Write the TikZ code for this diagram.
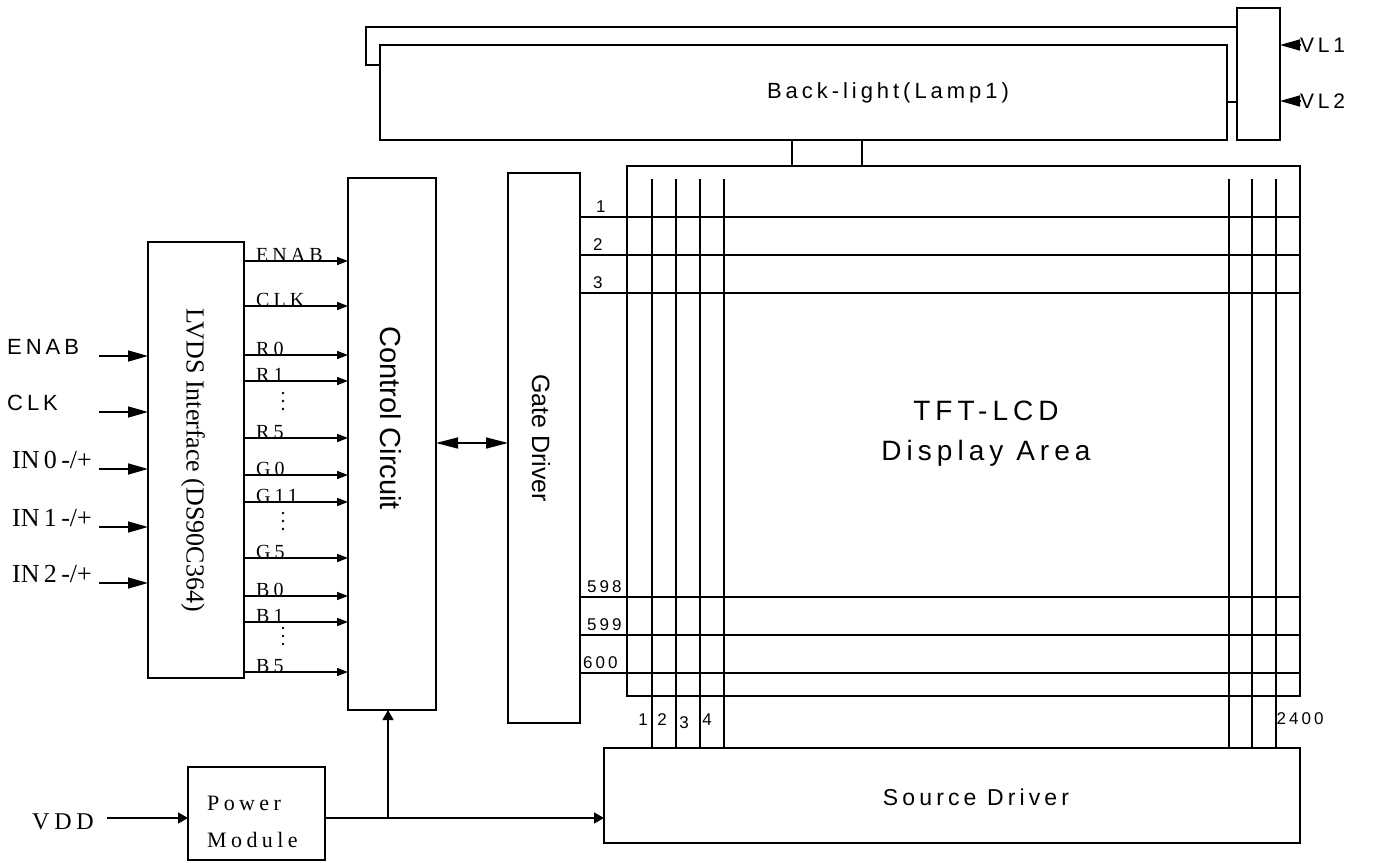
\documentclass[tikz,border=0pt]{standalone}
\usepackage{fontspec}
\setmainfont{Liberation Serif}
\setsansfont{Liberation Sans}
\newfontfamily\spsf[LetterSpace=18]{Liberation Sans}
\newfontfamily\sprm[LetterSpace=20]{Liberation Serif}
\usetikzlibrary{arrows.meta}
\newcommand{\fs}[1]{\fontsize{#1}{#1}\selectfont}
\begin{document}
\begin{tikzpicture}
            [x=1pt, y=-1pt,
             blk/.style ={draw, line width=1.9pt, inner sep=0pt, outer sep=0pt},
             ln/.style ={line width=1.6pt},
             lbl/.style ={inner sep=0pt},
             sarr/.style ={ln, -{Triangle[length=11pt,width=8pt]}},
             barr/.style ={ln, -{Triangle[length=20pt,width=11pt]}},
             parr/.style ={ln, -{Triangle[length=10pt,width=11pt]}}]
            \useasboundingbox (0,0) rectangle (1388,862);
            % blocks
            \node[blk, minimum width=847pt, minimum height=95pt] (bl) at (803.5,92.5) {};
            \node[blk, minimum width=43pt, minimum height=132pt] (vlb) at (1258.5,74) {};
            \node[blk, line width=2.6pt, minimum width=673pt, minimum height=530pt] (lcd) at (963.5,431) {};
            \node[blk, minimum width=696pt, minimum height=95pt] (src) at (952,795.5) {};
            \node[blk, minimum width=72pt, minimum height=550pt] (gate) at (544,448) {};
            \node[blk, minimum width=88pt, minimum height=532pt] (ctrl) at (392,444) {};
            \node[blk, minimum width=96pt, minimum height=436pt] (lvds) at (196,460) {};
            \node[blk, minimum width=137pt, minimum height=93pt] (pwr) at (256.5,813.5) {};
            % block texts
            \node[lbl, font=\spsf\fs{22}] at (888,93) {Back-light(Lamp1)};
            \node[lbl, font=\spsf\fs{28}, align=center] (tft) at (986,434)
                {TFT-LCD\\[12pt]Display Area};
            \node[lbl, font=\spsf\fs{23}] at (976,797) {Source Driver};
            \node[lbl, font=\sffamily\fs{25}, rotate=-90] at (541,438) {Gate Driver};
            \node[lbl, font=\sffamily\fs{29}, rotate=-90] at (391,418) {Control Circuit};
            \node[lbl, font=\rmfamily\fs{26}, rotate=-90] at (193,460) {LVDS Interface (DS90C364)};
            \node[lbl, font=\sprm\fs{22}, anchor=west] at (207,803) {Power};
            \node[lbl, font=\sprm\fs{22}, anchor=west] at (207,840) {Module};
            % back-light wiring
            \draw[ln] (bl.west |- 0,65) -| (366,27) -- (vlb.west |- 0,27);
            \draw[ln] (bl.east |- 0,102) -- (vlb.west |- 0,102);
            \draw[ln] (bl.south -| 792,0) -- (lcd.north -| 792,0);
            \draw[ln] (bl.south -| 862,0) -- (lcd.north -| 862,0);
            \foreach \y/\t in {45/VL1, 101/VL2}{
                \node[lbl, font=\spsf\fs{21}, anchor=west] (v\t) at (1300,\y) {\t};
                \draw[barr] (v\t.west) -- (vlb.east |- v\t.west);
            }
            % gate lines
            \foreach \y/\t/\p in {217/1/596, 255/2/593, 293/3/593, 597/598/587, 635/599/587, 673/600/583}{
                \draw[ln] (gate.east |- 0,\y) -- (lcd.east |- 0,\y);
                \node[lbl, font=\spsf\fs{17}, anchor=south west] at (\p,\y-4) {\t};
            }
            % source lines
            \foreach \x in {652,676,700,724,1229,1252,1276}
                \draw[ln] (\x,179) -- (src.north -| \x,0);
            \foreach \x/\y/\t in {643/720/1, 662/720/2, 684/723/3, 707/720/4, 1300/719/2400}
                \node[lbl, font=\spsf\fs{17}] at (\x,\y) {\t};
            % LVDS inputs
            \foreach \y/\t in {356/ENAB, 412/CLK}{
                \node[lbl, font=\spsf\fs{22}, anchor=west] (i\t) at (7,\y-9) {\t};
                \draw[barr] (99,\y) -- (lvds.west |- 0,\y);
            }
            \foreach \y/\t in {469/0, 527/1, 583/2}{
                \node[lbl, font=\rmfamily\fs{26}, anchor=west] (in\t) at (12,\y-9) {IN\,\t\,-/+};
                \draw[barr] (99,\y) -- (lvds.west |- 0,\y);
            }
            % LVDS outputs
            \foreach \y/\t in {261/ENAB, 306/CLK, 355/R0, 381/R1, 438/R5, 475/G0, 502/G11,
                               558/G5, 596/B0, 622/B1, 672/B5}{
                \draw[sarr] (lvds.east |- 0,\y) -- (ctrl.west |- 0,\y);
                \node[lbl, font=\sprm\fs{20}, anchor=south west] at (256,\y+1) {\t};
            }
            % dots between the bits
            \foreach \y in {393, 513, 628}
                \foreach \d in {0,8,16}
                    \fill (283,\y+\d) circle (1.3pt);
            % control to gate
            \draw[ln, {Triangle[length=22pt,width=11pt]}-{Triangle[length=22pt,width=11pt]}]
                (ctrl.east |- 0,443) -- (gate.west |- 0,443);
            % power
            \node[lbl, font=\sprm\fs{24}] (vdd) at (63,822) {VDD};
            \draw[parr] (107,818) -- (pwr.west |- 0,818);
            \coordinate (jn) at (388,818);
            \draw[parr] (pwr.east |- jn) -- (src.west |- jn);
            \draw[parr] (jn) -- (ctrl.south -| jn);
\end{tikzpicture}
\end{document}
